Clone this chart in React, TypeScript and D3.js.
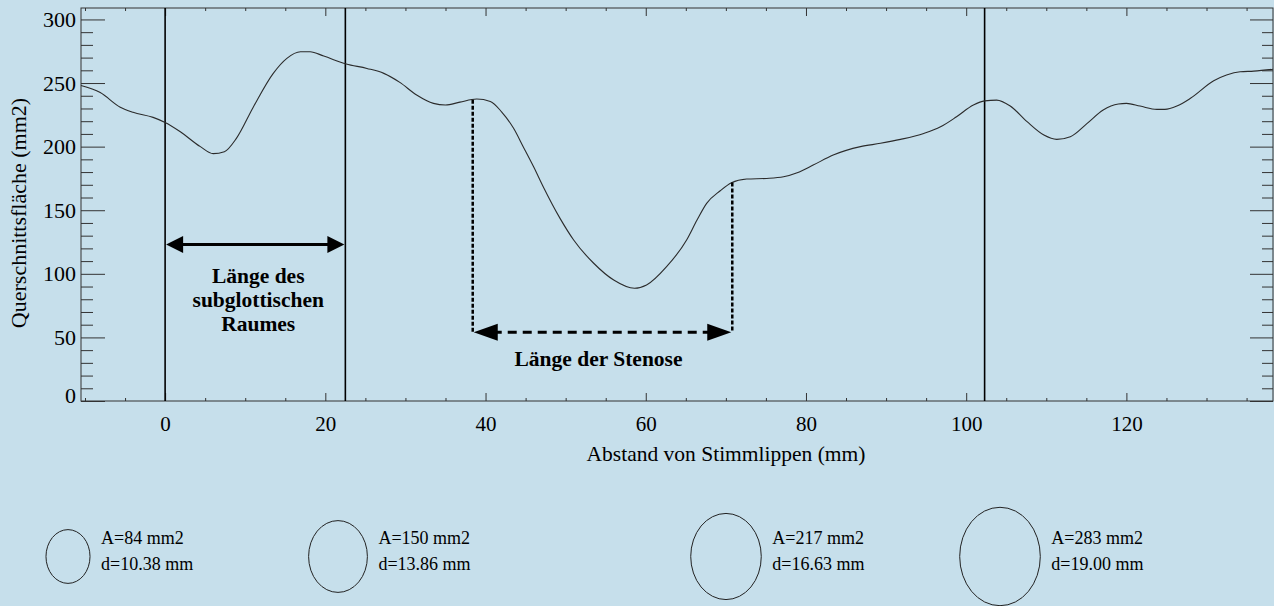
import React, { useEffect, useRef } from "react";
import * as d3 from "d3";

// Abstand von Stimmlippen (mm)
const positions = [
  -10.5, -8.1, -5.6, -4, -1.5, 0, 1.9, 4.4, 6.0, 7.4, 8.9, 11, 13.5, 15.2, 16.9,
  18.1, 19.8, 22.6, 25.2, 27.3, 29.3, 31.4, 33.5, 35, 36.8, 38.9, 40.6, 42.0,
  43.5, 44.7, 46.0, 47.2, 49.3, 51, 53.5, 56, 58.6, 60.1, 62.6, 65.1, 66.4, 67.6,
  69.3, 70.7, 72.6, 75.1, 77.2, 78.9, 80.9, 83.4, 86.8, 89.3, 91.8, 94.7, 96.8,
  98.8, 100.9, 102.3, 103.8, 105.5, 107.6, 109.7, 111.3, 113, 115.1, 117.1, 119,
  120, 121.7, 123.8, 124.8, 126.3, 128, 130.9, 132.5, 134.2, 135.9, 138.3,
];
// Querschnittsfläche (mm2)
const areas = [
  248, 242.5, 231, 227, 223, 219, 211.7, 200, 194.5, 196, 206.5, 231, 257.6,
  269.4, 274.6, 274.6, 271.2, 265, 261.5, 257.6, 250.5, 240.6, 234, 232.7, 235,
  237.4, 235.5, 227.4, 214.4, 200, 184.2, 168.5, 143.6, 126.6, 108.3, 95.1, 88.6,
  91.2, 105.6, 126.6, 142.3, 155.4, 165.3, 171.6, 174.5, 175, 176.3, 179.5, 185.5,
  193.4, 200, 202.6, 205.7, 210.4, 215.6, 223.5, 232.7, 236, 236.6, 231.9, 219.6,
  209.1, 205.7, 207.8, 218.3, 228.8, 233.5, 234, 231.9, 229.3, 229.3, 231.9, 238,
  251.8, 256.3, 258.9, 259.4, 260.8,
];

const xTicks = [0, 20, 40, 60, 80, 100, 120];
const yTicks = [0, 50, 100, 150, 200, 250, 300];

const markerLines = [0, 22.5, 102.3];
const subglotticSpan = [0, 22.5];
const subglotticLevel = 123;
const stenosisSpan = [38.4, 70.8];
const stenosisLevel = 54;

const legendAreas = [84, 150, 217, 283];
const legendDiameters = [10.38, 13.86, 16.63, 19.0];

const width = 1274;
const height = 606;
const plot = { left: 81, right: 1273, top: 8, bottom: 401 };
const legendCx = [68, 338, 726, 1000];
const legendCy = 556.5;
const font = '"Liberation Serif", "Times New Roman", serif';

export default function App() {
  const svgRef = useRef<SVGSVGElement>(null);

  useEffect(() => {
    const svg = d3.select(svgRef.current);
    svg.selectAll("*").remove();

    const x = d3.scaleLinear().domain([-10.5, 138.3]).range([plot.left, plot.right]);
    const y = d3.scaleLinear().domain([0, 309]).range([plot.bottom, plot.top]);
    const curveAt = d3.scaleLinear().domain(positions).range(areas);

    svg.append("rect").attr("width", width).attr("height", height).attr("fill", "#c6dfeb");

    const minorX = d3.range(-10, 139, 5).filter((v) => v % 20 !== 0);
    const minorY = d3.range(0, 310, 10).filter((v) => v % 50 !== 0);

    const axes = svg.append("g").attr("font-family", font);

    const styleAxis = (g, size = 21) => {
      g.select(".domain").remove();
      g.selectAll("line").attr("stroke", "#333").attr("stroke-width", 1);
      g.selectAll("text").attr("fill", "#000").attr("font-size", size).attr("font-family", font);
    };

    axes.append("g").attr("transform", `translate(0,${plot.bottom})`)
      .call(d3.axisBottom(x).tickValues(xTicks).tickSizeInner(-8).tickSizeOuter(0).tickPadding(15))
      .call(styleAxis, 21);
    axes.append("g").attr("transform", `translate(0,${plot.bottom})`)
      .call(d3.axisBottom(x).tickValues(minorX).tickSizeInner(-3).tickSizeOuter(0).tickFormat(() => ""))
      .call(styleAxis);
    axes.append("g").attr("transform", `translate(0,${plot.top})`)
      .call(d3.axisTop(x).tickValues(xTicks).tickSizeInner(-8).tickSizeOuter(0).tickFormat(() => ""))
      .call(styleAxis);
    axes.append("g").attr("transform", `translate(0,${plot.top})`)
      .call(d3.axisTop(x).tickValues(minorX).tickSizeInner(-3).tickSizeOuter(0).tickFormat(() => ""))
      .call(styleAxis);

    const left = axes.append("g").attr("transform", `translate(${plot.left},0)`)
      .call(d3.axisLeft(y).tickValues(yTicks).tickSizeInner(-24).tickSizeOuter(0).tickPadding(5))
      .call(styleAxis, 22);
    left.selectAll(".tick text").filter((d) => d === 0).attr("y", -6);
    axes.append("g").attr("transform", `translate(${plot.left},0)`)
      .call(d3.axisLeft(y).tickValues(minorY).tickSizeInner(-12).tickSizeOuter(0).tickFormat(() => ""))
      .call(styleAxis);
    axes.append("g").attr("transform", `translate(${plot.right},0)`)
      .call(d3.axisRight(y).tickValues(yTicks).tickSizeInner(-23).tickSizeOuter(0).tickFormat(() => ""))
      .call(styleAxis);
    axes.append("g").attr("transform", `translate(${plot.right},0)`)
      .call(d3.axisRight(y).tickValues(minorY).tickSizeInner(-11).tickSizeOuter(0).tickFormat(() => ""))
      .call(styleAxis);

    // frame
    svg.append("rect")
      .attr("x", plot.left).attr("y", plot.top)
      .attr("width", plot.right - plot.left).attr("height", plot.bottom - plot.top)
      .attr("fill", "none").attr("stroke", "#333").attr("stroke-width", 1);

    // axis titles
    svg.append("text")
      .attr("x", 726).attr("y", 461)
      .attr("text-anchor", "middle").attr("font-family", font).attr("font-size", 21.5)
      .text("Abstand von Stimmlippen (mm)");
    svg.append("text")
      .attr("transform", "translate(26,213) rotate(-90)")
      .attr("text-anchor", "middle").attr("font-family", font).attr("font-size", 22)
      .text("Querschnittsfläche (mm2)");

    // vertical marker lines
    svg.selectAll(".marker").data(markerLines).join("line")
      .attr("x1", (d) => x(d)).attr("x2", (d) => x(d))
      .attr("y1", plot.top).attr("y2", plot.bottom)
      .attr("stroke", "#000").attr("stroke-width", 1.6);

    // curve
    const line = d3.line<number>()
      .x((d, i) => x(positions[i]))
      .y((d) => y(d))
      .curve(d3.curveMonotoneX);
    svg.append("path")
      .attr("d", line(areas))
      .attr("fill", "none").attr("stroke", "#2b2b2b").attr("stroke-width", 1.1);

    const arrowHead = (tipX, tipY, dir, len) =>
      `M${tipX},${tipY}L${tipX + dir * len},${tipY - 8.5}L${tipX + dir * len},${tipY + 8.5}Z`;

    // subglottic span arrow
    const sy = y(subglotticLevel);
    svg.append("line")
      .attr("x1", x(subglotticSpan[0]) + 6).attr("x2", x(subglotticSpan[1]) - 6)
      .attr("y1", sy).attr("y2", sy)
      .attr("stroke", "#000").attr("stroke-width", 3);
    svg.append("path").attr("d", arrowHead(x(subglotticSpan[0]) + 1, sy, 1, 17)).attr("fill", "#000");
    svg.append("path").attr("d", arrowHead(x(subglotticSpan[1]) - 1, sy, -1, 17)).attr("fill", "#000");

    const subText = svg.append("text")
      .attr("text-anchor", "middle").attr("font-family", font).attr("font-size", 21.5)
      .attr("font-weight", "bold");
    ["Länge des", "subglottischen", "Raumes"].forEach((t, i) => {
      subText.append("tspan")
        .attr("x", x((subglotticSpan[0] + subglotticSpan[1]) / 2) + 3)
        .attr("y", 283 + i * 24)
        .text(t);
    });

    // stenosis span
    const ty = y(stenosisLevel);
    stenosisSpan.forEach((p) => {
      svg.append("line")
        .attr("x1", x(p)).attr("x2", x(p))
        .attr("y1", y(curveAt(p))).attr("y2", ty)
        .attr("stroke", "#000").attr("stroke-width", 2.5)
        .attr("stroke-dasharray", "4,2");
    });
    svg.append("line")
      .attr("x1", x(stenosisSpan[0]) + 20).attr("x2", x(stenosisSpan[1]) - 20)
      .attr("y1", ty).attr("y2", ty)
      .attr("stroke", "#000").attr("stroke-width", 3)
      .attr("stroke-dasharray", "9,6");
    svg.append("path").attr("d", arrowHead(x(stenosisSpan[0]) + 1, ty, 1, 24)).attr("fill", "#000");
    svg.append("path").attr("d", arrowHead(x(stenosisSpan[1]) - 1, ty, -1, 24)).attr("fill", "#000");
    svg.append("text")
      .attr("x", x((stenosisSpan[0] + stenosisSpan[1]) / 2) - 4).attr("y", 366)
      .attr("text-anchor", "middle").attr("font-family", font).attr("font-size", 21.5)
      .attr("font-weight", "bold")
      .text("Länge der Stenose");

    // legend circles
    const rx = d3.scaleLinear().domain([0, 19]).range([0, 40.3]);
    const ry = d3.scaleLinear().domain([0, 19]).range([0, 49.2]);
    const legend = svg.append("g").attr("font-family", font).attr("font-size", 18);
    legendDiameters.forEach((d, i) => {
      const cx = legendCx[i];
      legend.append("ellipse")
        .attr("cx", cx).attr("cy", legendCy)
        .attr("rx", rx(d)).attr("ry", ry(d))
        .attr("fill", "none").attr("stroke", "#222").attr("stroke-width", 1);
      legend.append("text")
        .attr("x", cx + rx(d) + 11).attr("y", 544)
        .text(`A=${legendAreas[i]} mm2`);
      legend.append("text")
        .attr("x", cx + rx(d) + 11).attr("y", 570)
        .text(`d=${d.toFixed(2)} mm`);
    });
  }, []);

  return (
    <svg
      ref={svgRef}
      width={width}
      height={height}
      style={{ position: "absolute", left: 0, top: 0, display: "block" }}
    />
  );
}
